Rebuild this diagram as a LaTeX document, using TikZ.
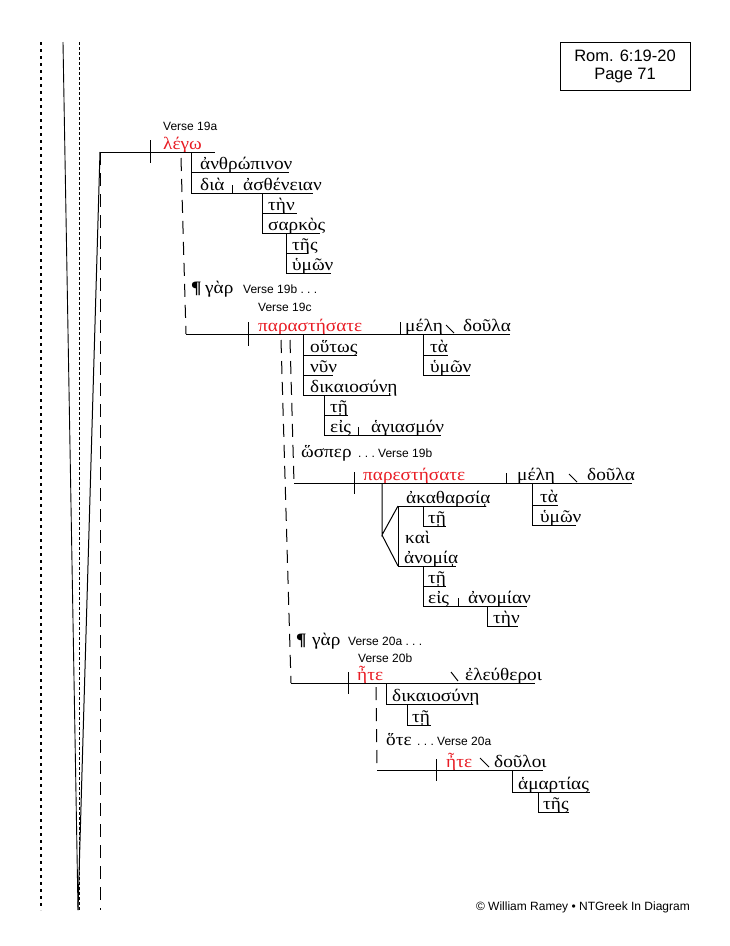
\documentclass[tikz,border=0pt]{standalone}
\usepackage{fontspec}
\setmainfont{Liberation Sans}
\newfontfamily\greekfont[FakeStretch=1.1]{Liberation Serif}
\definecolor{verbred}{RGB}{232,28,36}
\tikzset{
  gk/.style={anchor=base west, inner sep=0pt, font=\greekfont\fontsize{17.5}{17.5}\selectfont},
  vb/.style={gk, text=verbred},
  vs/.style={anchor=base west, inner sep=0pt, font=\fontsize{12}{14}\selectfont},
  pil/.style={gk, font=\greekfont\bfseries\fontsize{17.5}{17.5}\selectfont},
  ln/.style={line width=1pt},
  ldash/.style={line width=1pt, dash pattern=on 13pt off 8pt},
}

\begin{document}
\begin{tikzpicture}[x=1pt, y=-1pt]
         \useasboundingbox (0,0) rectangle (729,946);
         \node [draw, line width=0.8pt, minimum width=130pt, minimum height=48pt, align=center, font=\fontsize{16.5}{18}\selectfont] (REF) at (625,66) {Rom. 6:19-20\\Page 71};
         \node [anchor=base east, inner sep=0pt, font=\fontsize{12}{14}\selectfont] (CR) at (690,910) {© William Ramey • NTGreek In Diagram};
         % margin lines
         \draw [line width=2.6pt, dash pattern=on 2.6pt off 4.4pt] (41,42) -- (41,910);
         \draw [line width=0.9pt] (63,42) -- (78,910);
         \draw [line width=0.8pt, dash pattern=on 3pt off 2pt] (79,42) -- (79,910);
         \draw [ln] (100,152) -- (78,910);
         \draw [ldash] (100,152) -- (100,910);
         % verse 19a
         \node [vs] (V19a) at (163,130) {Verse 19a};
         \node [vb] (LEGO) at (163,149) {λέγω};
         \node [gk] (ANTH) at (200,169) {ἀνθρώπινον};
         \node [gk] (DIA) at (200,190) {διὰ};
         \node [gk] (ASTH) at (243,190) {ἀσθένειαν};
         \node [gk] (TEN1) at (268,210) {τὴν};
         \node [gk] (SARK) at (268,230) {σαρκὸς};
         \node [gk] (TES1) at (292,250) {τῆς};
         \node [gk] (HYM1) at (292,270) {ὑμῶν};
         \draw [ln] (100,152) -- (215,152);
         \draw [ln] (150,140) -- (150,163);
         \draw [ln] (191,152) -- (191,193);
         \draw [ln] (191,172) -- (289,172);
         \draw [ln] (191,193) -- (313,193);
         \draw [ln] (232,185) -- (232,193);
         \draw [ln] (262,193) -- (262,233);
         \draw [ln] (262,213) -- (297,213);
         \draw [ln] (262,233) -- (320,233);
         \draw [ln] (286,233) -- (286,273);
         \draw [ln] (286,253) -- (308,253);
         \draw [ln] (286,273) -- (331,273);
         \draw [ldash] (181,158) -- (186,334);
         % verse 19c
         \node [pil] (PAR1) at (191,293) {¶};
         \node [gk] (GAR1) at (205,293) {γὰρ};
         \node [vs] (V19b) at (243,293) {Verse 19b~.~.~.};
         \node [vs] (V19c) at (258,311) {Verse 19c};
         \node [vb] (PARA) at (258,331) {παραστήσατε};
         \node [gk] (MEL1) at (405,331) {μέλη};
         \node [gk] (DOU1) at (463,331) {δοῦλα};
         \node [gk] (HOUT) at (310,352) {οὕτως};
         \node [gk] (NYN) at (310,372) {νῦν};
         \node [gk] (DIK1) at (310,392) {δικαιοσύνῃ};
         \node [gk] (TEI1) at (330,412) {τῇ};
         \node [gk] (EIS1) at (330,432) {εἰς};
         \node [gk] (HAGI) at (371,432) {ἁγιασμόν};
         \node [gk] (TA1) at (430,352) {τὰ};
         \node [gk] (HYM2) at (430,372) {ὑμῶν};
         \draw [ln] (186,334) -- (510,334);
         \draw [ln] (248,322) -- (248,346);
         \draw [ln] (400,322) -- (400,334);
         \draw [ln] (446,325) -- (454,333);
         \draw [ln] (303,334) -- (303,395);
         \draw [ln] (303,355) -- (357,355);
         \draw [ln] (303,375) -- (333,375);
         \draw [ln] (303,395) -- (390,395);
         \draw [ln] (324,395) -- (324,435);
         \draw [ln] (324,415) -- (348,415);
         \draw [ln] (324,435) -- (441,435);
         \draw [ln] (358,427) -- (358,435);
         \draw [ln] (423,334) -- (423,375);
         \draw [ln] (423,355) -- (448,355);
         \draw [ln] (423,375) -- (470,375);
         \draw [ldash] (281,340) -- (291,683);
         \draw [ldash] (290,340) -- (294,483);
         % verse 19b
         \node [gk] (HOSP) at (301,457) {ὥσπερ};
         \node [vs] (V19bb) at (358,457) {.~.~.~Verse 19b};
         \node [vb] (PARE) at (363,480) {παρεστήσατε};
         \node [gk] (MEL2) at (517,480) {μέλη};
         \node [gk] (DOU2) at (587,480) {δοῦλα};
         \node [gk] (AKAT) at (406,503) {ἀκαθαρσίᾳ};
         \node [gk] (TEI2) at (428,523) {τῇ};
         \node [gk] (KAI) at (405,543) {καὶ};
         \node [gk] (ANOM) at (404,563) {ἀνομίᾳ};
         \node [gk] (TEI3) at (428,583) {τῇ};
         \node [gk] (EIS2) at (428,603) {εἰς};
         \node [gk] (ANON) at (468,603) {ἀνομίαν};
         \node [gk] (TEN2) at (493,623) {τὴν};
         \node [gk] (TA2) at (540,502) {τὰ};
         \node [gk] (HYM3) at (540,522) {ὑμῶν};
         \draw [ln] (294,483) -- (632,483);
         \draw [ln] (354,472) -- (354,494);
         \draw [ln] (506,473) -- (506,483);
         \draw [ln] (569,474) -- (577,482);
         \draw [ln] (382,483) -- (382,535) -- (398,506);
         \draw [ln] (382,535) -- (398,566);
         \draw [ln] (398,506) -- (398,566);
         \draw [ln] (398,506) -- (486,506);
         \draw [ln] (423,506) -- (423,526) -- (446,526);
         \draw [ln] (398,566) -- (456,566);
         \draw [ln] (423,566) -- (423,606);
         \draw [ln] (423,586) -- (446,586);
         \draw [ln] (423,606) -- (527,606);
         \draw [ln] (458,598) -- (458,606);
         \draw [ln] (487,606) -- (487,626) -- (518,626);
         \draw [ln] (532,483) -- (532,525);
         \draw [ln] (532,505) -- (558,505);
         \draw [ln] (532,525) -- (576,525);
         % verse 20b
         \node [pil] (PAR2) at (296,645) {¶};
         \node [gk] (GAR2) at (312,645) {γὰρ};
         \node [vs] (V20a) at (348,645) {Verse 20a~.~.~.};
         \node [vs] (V20b) at (358,662) {Verse 20b};
         \node [vb] (ETE1) at (357,680) {ἦτε};
         \node [gk] (ELEU) at (465,680) {ἐλεύθεροι};
         \node [gk] (DIK2) at (392,701) {δικαιοσύνῃ};
         \node [gk] (TEI4) at (412,722) {τῇ};
         \draw [ln] (291,683) -- (535,683);
         \draw [ln] (348,672) -- (348,694);
         \draw [ln] (451,672) -- (458,681);
         \draw [ln] (386,683) -- (386,704) -- (473,704);
         \draw [ln] (407,704) -- (407,725) -- (431,725);
         \draw [ldash] (376,687) -- (377,770);
         % verse 20a
         \node [gk] (HOTE) at (386,745) {ὅτε};
         \node [vs] (V20aa) at (417,745) {.~.~.~Verse 20a};
         \node [vb] (ETE2) at (446,767) {ἦτε};
         \node [gk] (DOU3) at (494,767) {δοῦλοι};
         \node [gk] (HAMA) at (518,789) {ἁμαρτίας};
         \node [gk] (TES2) at (543,809) {τῆς};
         \draw [ln] (377,770) -- (543,770);
         \draw [ln] (436,759) -- (436,781);
         \draw [ln] (480,758) -- (489,767);
         \draw [ln] (512,770) -- (512,792) -- (590,792);
         \draw [ln] (538,792) -- (538,812) -- (569,812);
\end{tikzpicture}
\end{document}
